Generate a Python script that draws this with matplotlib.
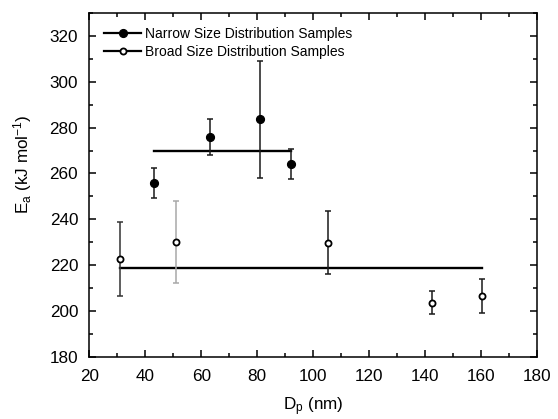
import matplotlib

matplotlib.use("Agg")
import matplotlib.pyplot as plt
from matplotlib.ticker import MultipleLocator
from matplotlib.lines import Line2D

plt.rcParams["font.family"] = ["Liberation Sans", "DejaVu Sans"]
plt.rcParams["mathtext.fontset"] = "custom"
plt.rcParams["mathtext.rm"] = "Liberation Sans"
plt.rcParams["mathtext.it"] = "Liberation Sans"

# Narrow size distribution samples
narrow_dp = [43.1, 63.1, 81.0, 92.1]
narrow_ea = [255.8, 276.0, 283.5, 264.3]
narrow_err = [6.4, 7.8, 25.3, 6.5]
narrow_mean = 270.0

# Broad size distribution samples
broad_dp = [31.0, 51.0, 105.1, 142.3, 160.3]
broad_ea = [222.9, 230.3, 229.9, 203.8, 206.8]
broad_err = [16.0, 17.8, 13.7, 5.1, 7.3]
broad_mean = 218.8

fig = plt.figure(figsize=(5.58, 4.19), dpi=100)
ax = fig.add_axes([0.160, 0.147, 0.803, 0.823])

# horizontal mean lines
ax.plot([narrow_dp[0], narrow_dp[-1]], [narrow_mean, narrow_mean], color="black", lw=1.7, zorder=2)
ax.plot([broad_dp[0], broad_dp[-1]], [broad_mean, broad_mean], color="black", lw=1.7, zorder=2)

# error bars (second broad one drawn light grey as in the original)
ax.errorbar(narrow_dp, narrow_ea, yerr=narrow_err, fmt="none", ecolor="#1a1a1a",
            elinewidth=1.1, capsize=2.2, capthick=1.1, zorder=3)
broad_colors = ["#333333", "#a8a8a8", "#1a1a1a", "#1a1a1a", "#1a1a1a"]
for x, y, e, c in zip(broad_dp, broad_ea, broad_err, broad_colors):
    ax.errorbar([x], [y], yerr=[e], fmt="none", ecolor=c,
                elinewidth=1.1, capsize=2.2, capthick=1.1, zorder=3)

ax.plot(narrow_dp, narrow_ea, "o", color="black", ms=5.6, ls="none", zorder=4)
ax.plot(broad_dp, broad_ea, "o", mfc="white", mec="black", mew=1.3, ms=4.4, ls="none", zorder=4)

ax.set_xlim(20, 180)
ax.set_ylim(180, 330)
ax.xaxis.set_major_locator(MultipleLocator(20))
ax.xaxis.set_minor_locator(MultipleLocator(10))
ax.yaxis.set_major_locator(MultipleLocator(20))
ax.yaxis.set_minor_locator(MultipleLocator(10))
ax.tick_params(which="both", direction="in", top=True, right=True,
               labeltop=False, labelright=False, width=1.1)
ax.tick_params(which="major", length=5, labelsize=12.3, pad=8)
ax.tick_params(which="minor", length=3)
for s in ax.spines.values():
    s.set_linewidth(1.1)

ax.set_xlabel(r"D$_\mathrm{p}$ (nm)", fontsize=12.3, va="center")
ax.set_ylabel(r"E$_\mathrm{a}$ (kJ mol$^{-1}$)", fontsize=12.3, va="center")
ax.xaxis.set_label_coords(0.5, -0.144)
ax.yaxis.set_label_coords(-0.150, 0.56)

handles = [
    Line2D([], [], color="black", lw=1.6, marker="o", ms=5.6, mfc="black", mec="black"),
    Line2D([], [], color="black", lw=1.6, marker="o", ms=4.4, mfc="white", mec="black", mew=1.3),
]
ax.legend(handles, ["Narrow Size Distribution Samples", "Broad Size Distribution Samples"],
          loc="upper left", frameon=False, fontsize=10, handlelength=2.7,
          handletextpad=0.25, labelspacing=0.3, borderaxespad=0.0,
          bbox_to_anchor=(0.02, 0.975))

fig.savefig("out.png", dpi=100, facecolor="white")
